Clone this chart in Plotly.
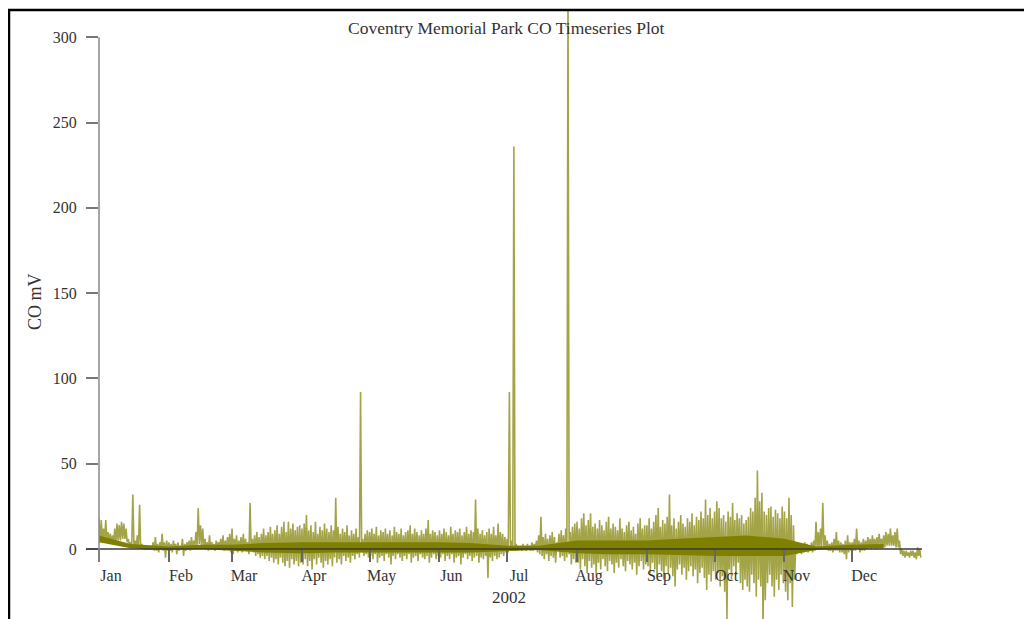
import numpy as np
import pandas as pd
import plotly.graph_objects as go

# ---------------- data ----------------
title_text = "Coventry Memorial Park CO Timeseries Plot"
x_title = "2002"
y_title = "CO mV"
month_labels = ["Jan", "Feb", "Mar", "Apr", "May", "Jun",
                "Jul", "Aug", "Sep", "Oct", "Nov", "Dec"]
y_ticks = [0, 50, 100, 150, 200, 250, 300]

# daily maximum of CO (mV), Jan 1 .. Dec 31 2002
daily_high = [
    # Jan
    18, 17, 12, 17, 10, 9, 8, 12, 15, 14, 16, 15, 12, 6, 4, 32, 5, 8, 26, 3, 2, 0.5, 0.3, 2, 4, 7, 3, 4, 9, 4, 5,
    # Feb
    4, 3, 5, 3, 4, 2, 6, 3, 4, 5, 7, 5, 10, 24, 14, 12, 6, 4, 8, 4, 3, 5, 4, 6, 8, 5, 7, 9,
    # Mar
    12, 6, 8, 5, 7, 9, 6, 4, 27, 6, 8, 10, 7, 9, 12, 8, 10, 13, 9, 11, 14, 9, 13, 16, 10, 16, 12, 15, 11, 13, 14,
    # Apr
    12, 15, 20, 11, 14, 10, 16, 9, 13, 11, 15, 12, 10, 14, 11, 30, 13, 9, 12, 10, 14, 8, 11, 9, 12, 7, 92, 6, 9, 11,
    # May
    10, 12, 9, 13, 8, 11, 10, 12, 9, 11, 8, 13, 10, 9, 12, 8, 10, 11, 14, 9, 12, 10, 8, 11, 9, 12, 17, 9, 11, 10, 8,
    # Jun
    11, 9, 12, 10, 8, 13, 9, 11, 10, 12, 8, 10, 13, 9, 11, 10, 29, 12, 9, 11, 8, 10, 12, 9, 13, 8, 15, 10, 9, 7,
    # Jul
    6, 92, 5, 236, 3, 2, 2, 3, 2, 3, 2, 4, 3, 5, 8, 19, 7, 9, 6, 8, 10, 7, 4, 9, 11, 8, 12, 330, 10, 13, 15,
    # Aug
    16, 12, 18, 21, 14, 17, 21, 13, 15, 12, 17, 14, 11, 16, 19, 12, 15, 13, 11, 18, 12, 10, 14, 16, 11, 13, 9, 15, 18, 12, 14,
    # Sep
    14, 18, 12, 16, 20, 24, 13, 17, 15, 19, 32, 14, 18, 12, 16, 20, 15, 13, 18, 16, 21, 14, 19, 17, 22, 18, 29, 20, 24, 18,
    # Oct
    22, 28, 24, 18, 20, 16, 22, 19, 27, 17, 21, 18, 20, 15, 17, 19, 24, 22, 30, 46, 28, 33, 22, 20, 24, 25, 19, 23, 21, 18, 25,
    # Nov
    22, 18, 30, 20, 14, 3, 2, 3, 2, 4, 3, 2, 4, 5, 16, 10, 12, 27, 8, 5, 3, 4, 6, 10, 5, 4, 3, 5, 8, 4,
    # Dec
    4, 6, 12, 5, 4, 6, 5, 7, 6, 8, 6, 7, 9, 6, 8, 10, 9, 12, 8, 10, 12, 5, 0, -1, -1, -2, -1, -1, -2, 1, 0,
]

# daily minimum of CO (mV)
daily_low = [
    # Jan
    4, 4, 5, 4, 4, 3, 3, 4, 5, 5, 6, 6, 4, 2, 1, 1, 0.5, 0.5, 0, 0, -0.5, 0, 0, -0.5, -1, -1, -2, 0, -1, -5, -1,
    # Feb
    -1, -2, 0, -3, -1, 0, -4, -1, 0, -1, 0, 1, 2, 3, 2, 1, 0, -1, 0, 0, -1, 0, 1, 0, -1, 0, 1, -2,
    # Mar
    -3, 0, -2, 0, -2, -1, 0, -3, -1, -2, -4, -3, -5, -4, -6, -4, -7, -5, -8, -6, -9, -5, -8, -10, -7, -11, -6, -9, -7, -10, -8,
    # Apr
    -9, -6, -10, -7, -12, -6, -9, -5, -8, -11, -7, -9, -6, -10, -5, -8, -6, -9, -4, -7, -5, -8, -4, -6, -3, -5, -2, -4, -3, -5,
    # May
    -4, -6, -3, -8, -5, -4, -7, -3, -5, -9, -4, -6, -3, -5, -7, -4, -6, -3, -8, -5, -4, -7, -3, -5, -6, -4, -8, -5, -3, -6, -4,
    # Jun
    -5, -3, -7, -4, -6, -3, -8, -5, -4, -9, -5, -3, -6, -4, -7, -5, -4, -8, -5, -6, -4, -17, -5, -7, -4, -6, -5, -3, -4, -2,
    # Jul
    -2, -1, -1, -1, -1, 0, -1, 0, -1, 0, -1, -1, 0, -2, -3, -4, -6, -3, -7, -4, -5, -8, -1, -5, -4, -7, -5, -3, -9, -6, -8,
    # Aug
    -8, -12, -6, -10, -14, -7, -11, -9, -15, -8, -12, -6, -10, -13, -7, -9, -14, -8, -11, -6, -10, -13, -7, -9, -12, -8, -15, -10, -7, -12, -9,
    # Sep
    -10, -14, -8, -12, -16, -9, -13, -18, -10, -14, -11, -16, -22, -12, -9, -15, -11, -18, -13, -10, -16, -12, -20, -14, -11, -17, -24, -15, -19, -13,
    # Oct
    -18, -14, -22, -16, -25, -41, -12, -18, -10, -15, -8, -20, -24, -18, -22, -25, -15, -20, -28, -18, -22, -45, -30, -20, -15, -22, -28, -18, -24, -15, -20,
    # Nov
    -25, -30, -20, -34, -18, -3, -2, -3, -2, -1, -2, -1, -2, -1, 0, 0, 1, 1, 0, -1, -1, -2, -1, -1, -2, -2, -3, -6, -2, -1,
    # Dec
    -1, -1, 0, -2, -1, -1, 0, 1, 0, 1, 0, 1, 2, 1, 1, 2, 2, 2, 2, 1, 1, -3, -4, -5, -4, -5, -4, -5, -6, -4, -5,
]

# dense central band (typical range), at the 1st and 15th of each month
core_top = [8, 3, 1.5, 2.5, 2.5, 3.5, 4, 4, 4, 4, 4, 3.5, 2, 2, 5, 5, 5, 6, 7, 8, 6, 1.5, 2.5, 3]
core_bottom = [4, 0.5, -0.5, 0, -1, -2, -2.5, -2, -2, -2, -2, -2, -1, -0.5, -2.5, -3, -3, -3.5, -4, -4, -4, -0.5, 0.5, 0.5]

# ---------------- styling ----------------
OLIVE = "#808000"
SPIKE = "rgba(128,128,0,0.72)"
FONT = "Liberation Serif"
TXT = "#333333"

days = pd.date_range("2002-01-01", periods=len(daily_high), freq="D")
half_day = pd.Timedelta(hours=12)
zig_x, zig_y = [], []
for d, hi, lo in zip(days, daily_high, daily_low):
    zig_x += [d, d + half_day]
    zig_y += [hi, lo]

core_x = pd.date_range("2002-01-01", periods=len(core_top), freq="SMS")
band_x = list(core_x) + list(core_x[::-1])
band_y = list(core_top) + list(core_bottom[::-1])

fig = go.Figure()
fig.add_trace(go.Scatter(x=band_x, y=band_y, fill="toself", fillcolor=OLIVE,
                         line=dict(width=0), mode="lines", hoverinfo="skip",
                         showlegend=False))
fig.add_trace(go.Scatter(x=zig_x, y=zig_y, mode="lines",
                         line=dict(color=SPIKE, width=1.6), showlegend=False))

# page body has an 8px margin: the figure is sized/offset to compensate
y_min, y_max = -41, 316
fig.update_layout(
    width=1024, height=611,
    margin=dict(l=91, r=110, t=2, b=0),
    paper_bgcolor="white", plot_bgcolor="white",
    font=dict(family=FONT, size=16, color=TXT),
    showlegend=False,
)
fig.update_xaxes(
    range=["2002-01-01", "2002-12-31 23:59"],
    anchor="free", position=(-y_min) / (y_max - y_min),
    showline=False, showgrid=False, zeroline=False,
    tickvals=pd.date_range("2002-01-01", periods=12, freq="MS"),
    ticktext=month_labels,
    ticks="outside", ticklen=12, tickwidth=1.5, tickcolor="#666666",
    ticklabelshift=12, ticklabelstandoff=0,
    tickfont=dict(family=FONT, size=16, color=TXT),
    automargin=False,
)
fig.update_yaxes(
    range=[y_min, y_max],
    showline=False, showgrid=False, zeroline=False,
    tickvals=y_ticks,
    ticks="outside", ticklen=12, tickwidth=1.5, tickcolor="#777777",
    ticklabelstandoff=6,
    tickfont=dict(family=FONT, size=16, color=TXT),
    automargin=False,
)

# axis lines
fig.add_shape(type="line", xref="paper", yref="y", x0=-13 / 823, x1=1.0, y0=0, y1=0,
              line=dict(color="#3a3a3a", width=1.5), layer="above")
fig.add_shape(type="line", xref="paper", yref="y", x0=0, x1=0, y0=-7.6, y1=300,
              line=dict(color="#888888", width=1.5), layer="above")
# outer frame
fig.add_shape(type="rect", xref="paper", yref="paper",
              x0=-90 / 823, x1=1.2, y0=-0.2, y1=1.0,
              line=dict(color="black", width=2.5), layer="above")

fig.add_annotation(text=title_text, xref="paper", yref="paper",
                   x=(506 - 99) / 823, y=1 - (28 - 10) / 609, showarrow=False,
                   xanchor="center", yanchor="middle",
                   font=dict(family=FONT, size=17.5, color=TXT))
fig.add_annotation(text=x_title, xref="paper", yref="paper",
                   x=(509 - 99) / 823, y=1 - (597 - 10) / 609, showarrow=False,
                   xanchor="center", yanchor="middle",
                   font=dict(family=FONT, size=17, color=TXT))
fig.add_annotation(text=y_title, xref="paper", yref="paper",
                   x=(35 - 99) / 823, y=1 - (302 - 10) / 609, showarrow=False,
                   textangle=-90, xanchor="center", yanchor="middle",
                   font=dict(family=FONT, size=18, color=TXT))

fig.write_html("out.html")
